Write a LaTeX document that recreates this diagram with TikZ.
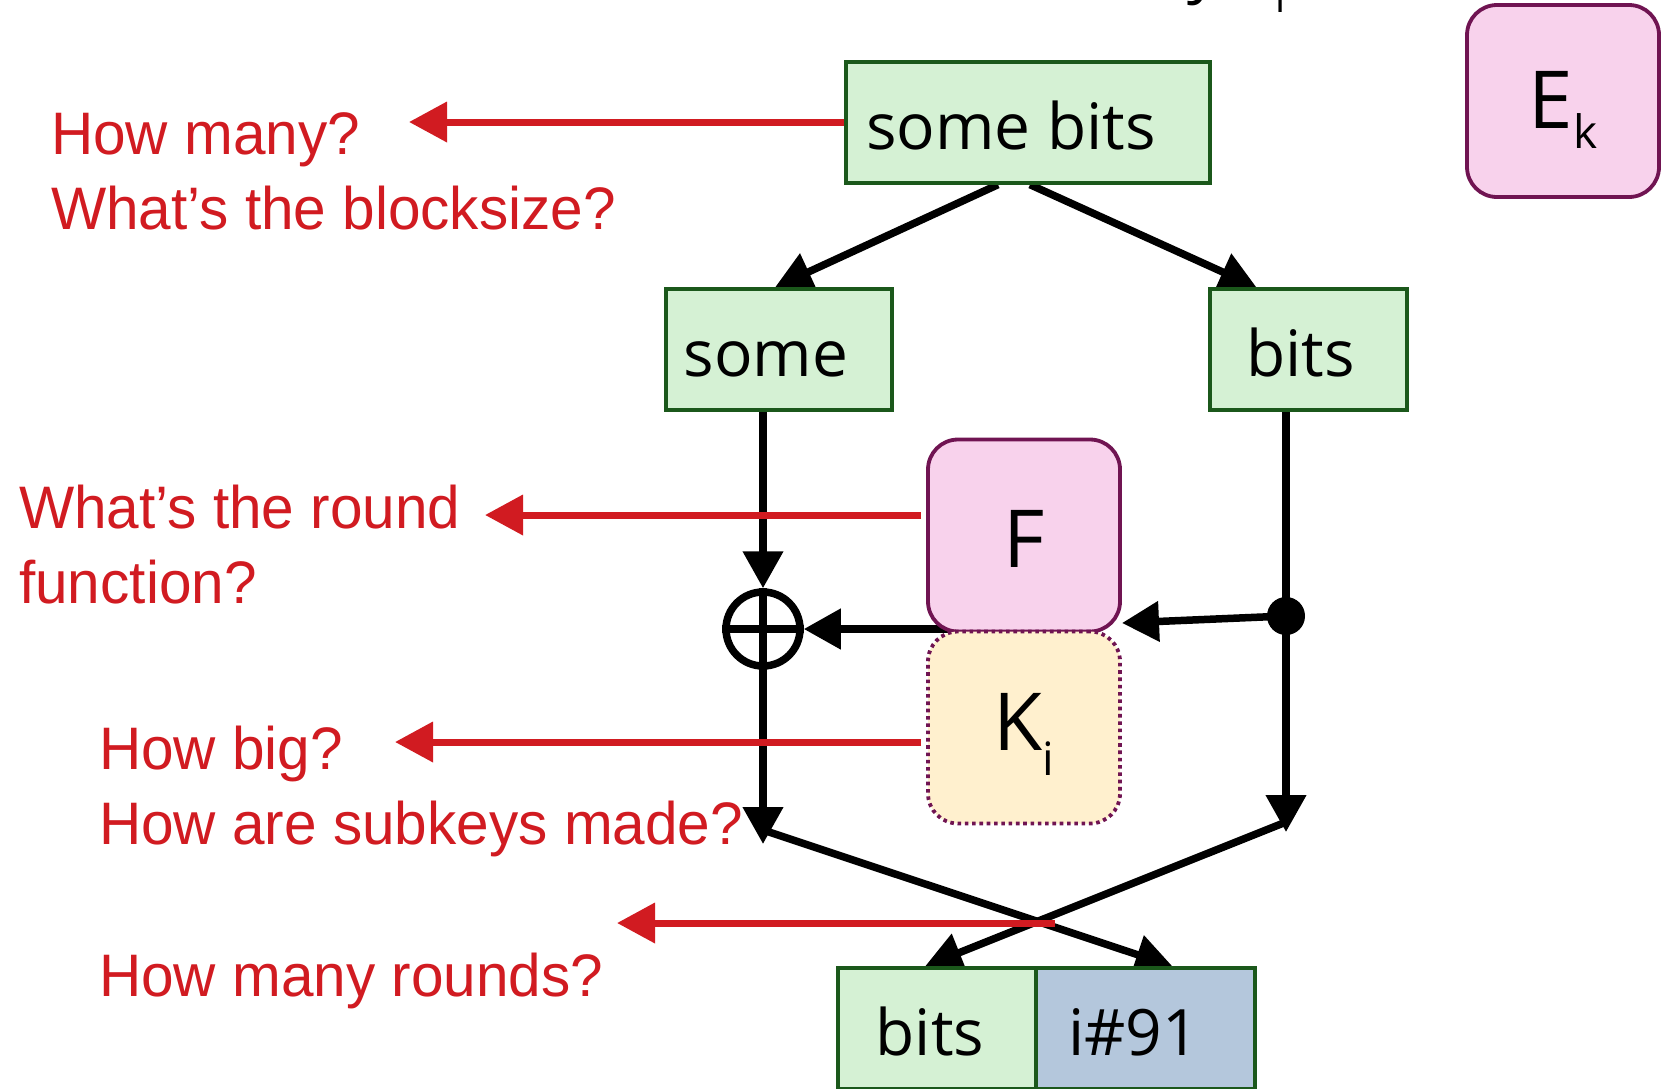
\documentclass[tikz,border=0pt]{standalone}
\usepackage{fontspec}
\setmainfont{Open Sans}
\newfontfamily\notefont[FakeStretch=0.975]{Liberation Sans}
\usetikzlibrary{arrows.meta,backgrounds}

\definecolor{boxgreen}{RGB}{213,241,212}
\definecolor{edgegreen}{RGB}{27,88,27}
\definecolor{boxpink}{RGB}{248,210,236}
\definecolor{edgeplum}{RGB}{112,20,82}
\definecolor{boxcream}{RGB}{255,240,206}
\definecolor{boxblue}{RGB}{180,199,220}
\definecolor{notered}{RGB}{209,27,33}

\begin{document}
\begin{tikzpicture}[x=1pt,y=-1pt,
  halfbox/.style={draw=edgegreen, fill=boxgreen, line width=3.3pt, inner sep=0pt,
    minimum height=121pt, text height=53pt, text depth=0pt,
    font=\fontsize{64}{64}\selectfont},
  idxbox/.style={halfbox, fill=boxblue},
  funcbox/.style={draw=edgeplum, fill=boxpink, line width=3.8pt, rounded corners=30pt,
    inner sep=0pt, minimum width=192pt, minimum height=192pt, text depth=0pt,
    font=\fontsize{80}{80}\selectfont},
  keybox/.style={funcbox, fill=boxcream, dash pattern=on 3.6pt off 3.7pt},
  flow/.style={line width=7.5pt, -{Triangle[length=37pt,width=39pt]}},
  ask/.style={draw=notered, line width=7pt, -{Triangle[length=38pt,width=39pt]}},
  question/.style={text=notered, inner sep=0pt, anchor=base west,
    font=\notefont\fontsize{60}{72}\selectfont}]

\useasboundingbox (0,0) rectangle (1665,1088);
\clip (0,0) rectangle (1665,1088);

% heading line, running off the top edge
\node[inner sep=0pt, anchor=base west, font=\fontsize{64}{64}\selectfont] (heading) at (1120,-10)
  {key K\raisebox{-22pt}{\fontsize{40}{40}\selectfont i}};

% data blocks
\node[halfbox, minimum width=364pt] (top) at (1028,122.5) {some bits\kern34pt};
\node[halfbox, minimum width=226pt] (left) at (779,349.5) {some\kern26pt};
\node[halfbox, minimum width=197pt] (right) at (1308.5,349.5) {bits\kern16pt};
\node[halfbox, minimum width=198pt] (outbits) at (937,1028.5) {bits\kern14pt};
\node[idxbox, minimum width=219pt] (outidx) at (1145.5,1028.5) {i\#91\kern24pt};

% round function, subkey and cipher
\node[funcbox, text height=63pt] (F) at (1024,535.5) {F};
\node[keybox, text height=45pt] (Ki) at (1024,727.5)
  {K\raisebox{-25pt}{\fontsize{46}{46}\selectfont i}};
\node[funcbox, text height=54pt] (Ek) at (1563,101)
  {E\raisebox{-20pt}{\fontsize{46}{46}\selectfont k}};

% xor and branch point
\node[circle, draw, line width=7.5pt, minimum size=74pt, inner sep=0pt] (xor) at (763,629) {};
\draw[line width=7.5pt] (xor.north) -- (xor.south) (xor.west) -- (xor.east);
\node[circle, fill, minimum size=38pt, inner sep=0pt] (dot) at (1286,616) {};

% points used by the connectors
\coordinate (ffeed) at (948,629);
\coordinate (fin) at (1122,623);
\coordinate (ltip) at (763,844);
\coordinate (rtip) at (1286,832);
\coordinate (lstart) at (763,830);
\coordinate (rstart) at (1286,822);
\coordinate (xmeet) at (1055,923);
\coordinate (qTtip) at (409,122);
\coordinate (qFtip) at (485,515);
\coordinate (qKtip) at (395,742);
\coordinate (qRtip) at (617,923);

\begin{pgfonlayer}{background}
  \draw[flow] ([xshift=-30pt]top.south) -- ([xshift=-4pt]left.north);
  \draw[flow] ([xshift=2pt]top.south) -- ([xshift=-52pt]right.north);
  \draw[flow] (left.south -| xor.north) -- (xor.north);
  \draw[flow] (right.south -| dot) -- (rtip);
  \draw[flow] (dot.center) -- (fin);
  \draw[flow] (ffeed) -- (xor.east);
  \draw[flow] (xor.south) -- (ltip);
  \draw[flow] (lstart) -- ([xshift=27pt]outidx.north);
  \draw[flow] (rstart) -- ([xshift=-12pt]outbits.north);
\end{pgfonlayer}

% questions
\node[question] (q1) at (51,154) {How many?};
\node[question] (q2) at (51,229) {What’s the blocksize?};
\node[question] (q3) at (19,528) {What’s the round};
\node[question] (q4) at (19,603) {function?};
\node[question] (q5) at (99,769) {How big?};
\node[question] (q6) at (99,844) {How are subkeys made?};
\node[question] (q7) at (99,996) {How many rounds?};

\draw[ask] (qTtip -| top.west) -- (qTtip);
\draw[ask, shorten <=5pt] (qFtip -| F.west) -- (qFtip);
\draw[ask, shorten <=5pt] (qKtip -| Ki.west) -- (qKtip);
\draw[ask] (xmeet) -- (qRtip);
\end{tikzpicture}
\end{document}
